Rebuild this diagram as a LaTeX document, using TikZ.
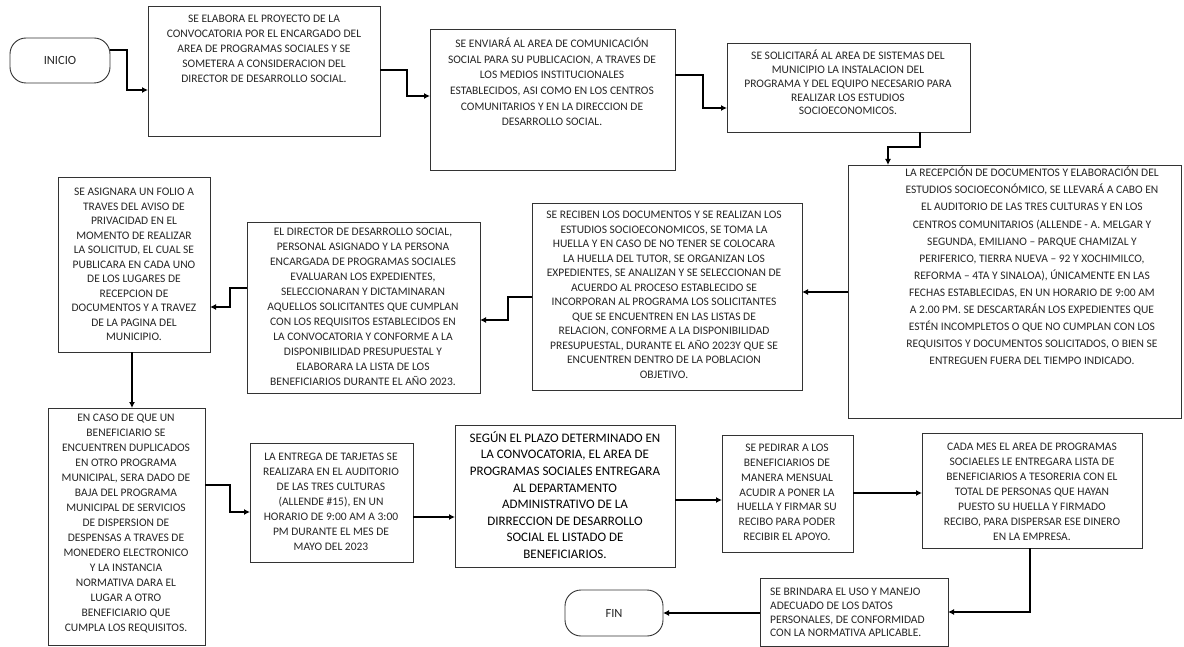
\documentclass[tikz,border=0pt]{standalone}
\usepackage{fontspec}
\setmainfont{Carlito}
\usetikzlibrary{arrows.meta}
\begin{document}
\begin{tikzpicture}[x=1pt,y=-1pt,
  box/.style={draw=black!80, line width=0.9pt, anchor=north west, inner sep=0pt, outer sep=0pt},
  term/.style={draw=black!80, line width=0.9pt, rounded corners=16pt, inner sep=0pt, outer sep=0pt, font=\fontsize{12.5}{14}\selectfont, text=black!85},
  txt/.style={align=center, inner sep=0pt, text=black!85},
  conn/.style={line width=1.6pt, -{Latex[length=6pt,width=6pt]}},
]
\useasboundingbox[fill=white] (0,0) rectangle (1184,647);

% boxes
\node[term, minimum width=100pt, minimum height=45pt] (ini) at (60,60.5) {INICIO};
\node[box, minimum width=232pt, minimum height=130pt] (b1) at (148,6) {};
\node[box, minimum width=245pt, minimum height=141pt] (b2) at (430,29) {};
\node[box, minimum width=243pt, minimum height=89pt] (b3) at (727,43) {};
\node[box, minimum width=333pt, minimum height=253pt] (b4) at (848,165) {};
\node[box, minimum width=270pt, minimum height=187pt] (b5) at (532,203) {};
\node[box, minimum width=233pt, minimum height=171pt] (b6) at (247,222) {};
\node[box, minimum width=152pt, minimum height=175pt] (b7) at (58,177) {};
\node[box, minimum width=157pt, minimum height=237pt] (b8) at (48,408) {};
\node[box, minimum width=163pt, minimum height=119pt] (b9) at (250,443) {};
\node[box, minimum width=220pt, minimum height=142pt] (b10) at (455,425) {};
\node[box, minimum width=131pt, minimum height=117pt] (b11) at (722,435) {};
\node[box, minimum width=220pt, minimum height=115pt] (b12) at (922,433) {};
\node[box, minimum width=188pt, minimum height=68pt] (b13) at (760,578) {};
\node[term, minimum width=98pt, minimum height=46pt] (fin) at (614,613) {FIN};

% texts
\node[txt, font=\fontsize{11.5}{15}\selectfont] (t1) at (264,49) {SE ELABORA EL PROYECTO DE LA\\CONVOCATORIA POR EL ENCARGADO DEL\\AREA DE PROGRAMAS SOCIALES Y SE\\SOMETERA A CONSIDERACION DEL\\DIRECTOR DE DESARROLLO SOCIAL.};
\node[txt, font=\fontsize{11.5}{15.6}\selectfont] (t2) at (552,82) {SE ENVIARÁ AL AREA DE COMUNICACIÓN\\SOCIAL PARA SU PUBLICACION, A TRAVES DE\\LOS MEDIOS INSTITUCIONALES\\ESTABLECIDOS, ASI COMO EN LOS CENTROS\\COMUNITARIOS Y EN LA DIRECCION DE\\DESARROLLO SOCIAL.};
\node[txt, font=\fontsize{11.5}{13.8}\selectfont] (t3) at (848,82.5) {SE SOLICITARÁ AL AREA DE SISTEMAS DEL\\MUNICIPIO LA INSTALACION DEL\\PROGRAMA Y DEL EQUIPO NECESARIO PARA\\REALIZAR LOS ESTUDIOS\\SOCIOECONOMICOS.};
\node[txt, font=\fontsize{11.5}{17.1}\selectfont] (t4) at (1032,266) {LA RECEPCIÓN DE DOCUMENTOS Y ELABORACIÓN DEL\\ESTUDIOS SOCIOECONÓMICO, SE LLEVARÁ A CABO EN\\EL AUDITORIO DE LAS TRES CULTURAS Y EN LOS\\CENTROS COMUNITARIOS (ALLENDE - A. MELGAR Y\\SEGUNDA, EMILIANO – PARQUE CHAMIZAL Y\\PERIFERICO, TIERRA NUEVA – 92 Y XOCHIMILCO,\\REFORMA – 4TA Y SINALOA), ÚNICAMENTE EN LAS\\FECHAS ESTABLECIDAS, EN UN HORARIO DE 9:00 AM\\A 2.00 PM. SE DESCARTARÁN LOS EXPEDIENTES QUE\\ESTÉN INCOMPLETOS O QUE NO CUMPLAN CON LOS\\REQUISITOS Y DOCUMENTOS SOLICITADOS, O BIEN SE\\ENTREGUEN FUERA DEL TIEMPO INDICADO.};
\node[txt, font=\fontsize{11.5}{14.5}\selectfont] (t5) at (664,295) {SE RECIBEN LOS DOCUMENTOS Y SE REALIZAN LOS\\ESTUDIOS SOCIOECONOMICOS, SE TOMA LA\\HUELLA Y EN CASO DE NO TENER SE COLOCARA\\LA HUELLA DEL TUTOR, SE ORGANIZAN LOS\\EXPEDIENTES, SE ANALIZAN Y SE SELECCIONAN DE\\ACUERDO AL PROCESO ESTABLECIDO SE\\INCORPORAN AL PROGRAMA LOS SOLICITANTES\\QUE SE ENCUENTREN EN LAS LISTAS DE\\RELACION, CONFORME A LA DISPONIBILIDAD\\PRESUPUESTAL, DURANTE EL AÑO 2023Y QUE SE\\ENCUENTREN DENTRO DE LA POBLACION\\OBJETIVO.};
\node[txt, font=\fontsize{11.5}{15}\selectfont] (t6) at (363,307) {EL DIRECTOR DE DESARROLLO SOCIAL,\\PERSONAL ASIGNADO Y LA PERSONA\\ENCARGADA DE PROGRAMAS SOCIALES\\EVALUARAN LOS EXPEDIENTES,\\SELECCIONARAN Y DICTAMINARAN\\AQUELLOS SOLICITANTES QUE CUMPLAN\\CON LOS REQUISITOS ESTABLECIDOS EN\\LA CONVOCATORIA Y CONFORME A LA\\DISPONIBILIDAD PRESUPUESTAL Y\\ELABORARA LA LISTA DE LOS\\BENEFICIARIOS DURANTE EL AÑO 2023.};
\node[txt, font=\fontsize{11.5}{14.5}\selectfont] (t7) at (134,264.5) {SE ASIGNARA UN FOLIO A\\TRAVES DEL AVISO DE\\PRIVACIDAD EN EL\\MOMENTO DE REALIZAR\\LA SOLICITUD, EL CUAL SE\\PUBLICARA EN CADA UNO\\DE LOS LUGARES DE\\RECEPCION DE\\DOCUMENTOS Y A TRAVEZ\\DE LA PAGINA DEL\\MUNICIPIO.};
\node[txt, font=\fontsize{11.5}{15}\selectfont] (t8) at (126,523.5) {EN CASO DE QUE UN\\BENEFICIARIO SE\\ENCUENTREN DUPLICADOS\\EN OTRO PROGRAMA\\MUNICIPAL, SERA DADO DE\\BAJA DEL PROGRAMA\\MUNICIPAL DE SERVICIOS\\DE DISPERSION DE\\DESPENSAS A TRAVES DE\\MONEDERO ELECTRONICO\\Y LA INSTANCIA\\NORMATIVA DARA EL\\LUGAR A OTRO\\BENEFICIARIO QUE\\CUMPLA LOS REQUISITOS.};
\node[txt, font=\fontsize{11.5}{15}\selectfont] (t9) at (331,502) {LA ENTREGA DE TARJETAS SE\\REALIZARA EN EL AUDITORIO\\DE LAS TRES CULTURAS\\(ALLENDE \#15), EN UN\\HORARIO DE 9:00 AM A 3:00\\PM DURANTE EL MES DE\\MAYO DEL 2023};
\node[txt, font=\fontsize{13}{16.6}\selectfont, text=black] (t10) at (565,495) {SEGÚN EL PLAZO DETERMINADO EN\\LA CONVOCATORIA, EL AREA DE\\PROGRAMAS SOCIALES ENTREGARA\\AL DEPARTAMENTO\\ADMINISTRATIVO DE LA\\DIRRECCION DE DESARROLLO\\SOCIAL EL LISTADO DE\\BENEFICIARIOS.};
\node[txt, font=\fontsize{11.5}{14.8}\selectfont] (t11) at (787,492.5) {SE PEDIRAR A LOS\\BENEFICIARIOS DE\\MANERA MENSUAL\\ACUDIR A PONER LA\\HUELLA Y FIRMAR SU\\RECIBO PARA PODER\\RECIBIR EL APOYO.};
\node[txt, font=\fontsize{11.5}{15}\selectfont] (t12) at (1032,492) {CADA MES EL AREA DE PROGRAMAS\\SOCIAELES LE ENTREGARA LISTA DE\\BENEFICIARIOS A TESORERIA CON EL\\TOTAL DE PERSONAS QUE HAYAN\\PUESTO SU HUELLA Y FIRMADO\\RECIBO, PARA DISPERSAR ESE DINERO\\EN LA EMPRESA.};
\node[txt, align=left, anchor=west, font=\fontsize{11.5}{13.7}\selectfont] (t13) at (770,612.5) {SE BRINDARA EL USO Y MANEJO\\ADECUADO DE LOS DATOS\\PERSONALES, DE CONFORMIDAD\\CON LA NORMATIVA APLICABLE.};

% bend points
\coordinate (a1) at (127,50);  \coordinate (a2) at (127,90);
\coordinate (c1) at (407,70);  \coordinate (c2) at (407,96);
\coordinate (d1) at (703,75);  \coordinate (d2) at (703,108);
\coordinate (e0) at (920,132); \coordinate (e1) at (920,147); \coordinate (e2) at (888,147);
\coordinate (f1) at (848,292);
\coordinate (g1) at (508,297); \coordinate (g2) at (508,320);
\coordinate (h1) at (230,288); \coordinate (h2) at (230,307);
\coordinate (i1) at (132,352);
\coordinate (j1) at (230,485); \coordinate (j2) at (230,512);
\coordinate (k1) at (413,517);
\coordinate (l1) at (675,500);
\coordinate (m1) at (853,493);
\coordinate (n0) at (1030,548); \coordinate (n1) at (1030,612);
\coordinate (o1) at (760,613);

% connectors
\draw[conn] (ini.east |- a1) -- (a1) -- (a2) -- (b1.west |- a2);
\draw[conn] (b1.east |- c1) -- (c1) -- (c2) -- (b2.west |- c2);
\draw[conn] (b2.east |- d1) -- (d1) -- (d2) -- (b3.west |- d2);
\draw[conn] (e0) -- (e1) -- (e2) -- (e2 |- b4.north);
\draw[conn] (f1) -- (b5.east |- f1);
\draw[conn] (b5.west |- g1) -- (g1) -- (g2) -- (b6.east |- g2);
\draw[conn] (b6.west |- h1) -- (h1) -- (h2) -- (b7.east |- h2);
\draw[conn] (i1) -- (i1 |- b8.north);
\draw[conn] (b8.east |- j1) -- (j1) -- (j2) -- (b9.west |- j2);
\draw[conn] (k1) -- (b10.west |- k1);
\draw[conn] (l1) -- (b11.west |- l1);
\draw[conn] (m1) -- (b12.west |- m1);
\draw[conn] (n0) -- (n1) -- (b13.east |- n1);
\draw[conn] (o1) -- (fin.east |- o1);
\end{tikzpicture}
\end{document}
